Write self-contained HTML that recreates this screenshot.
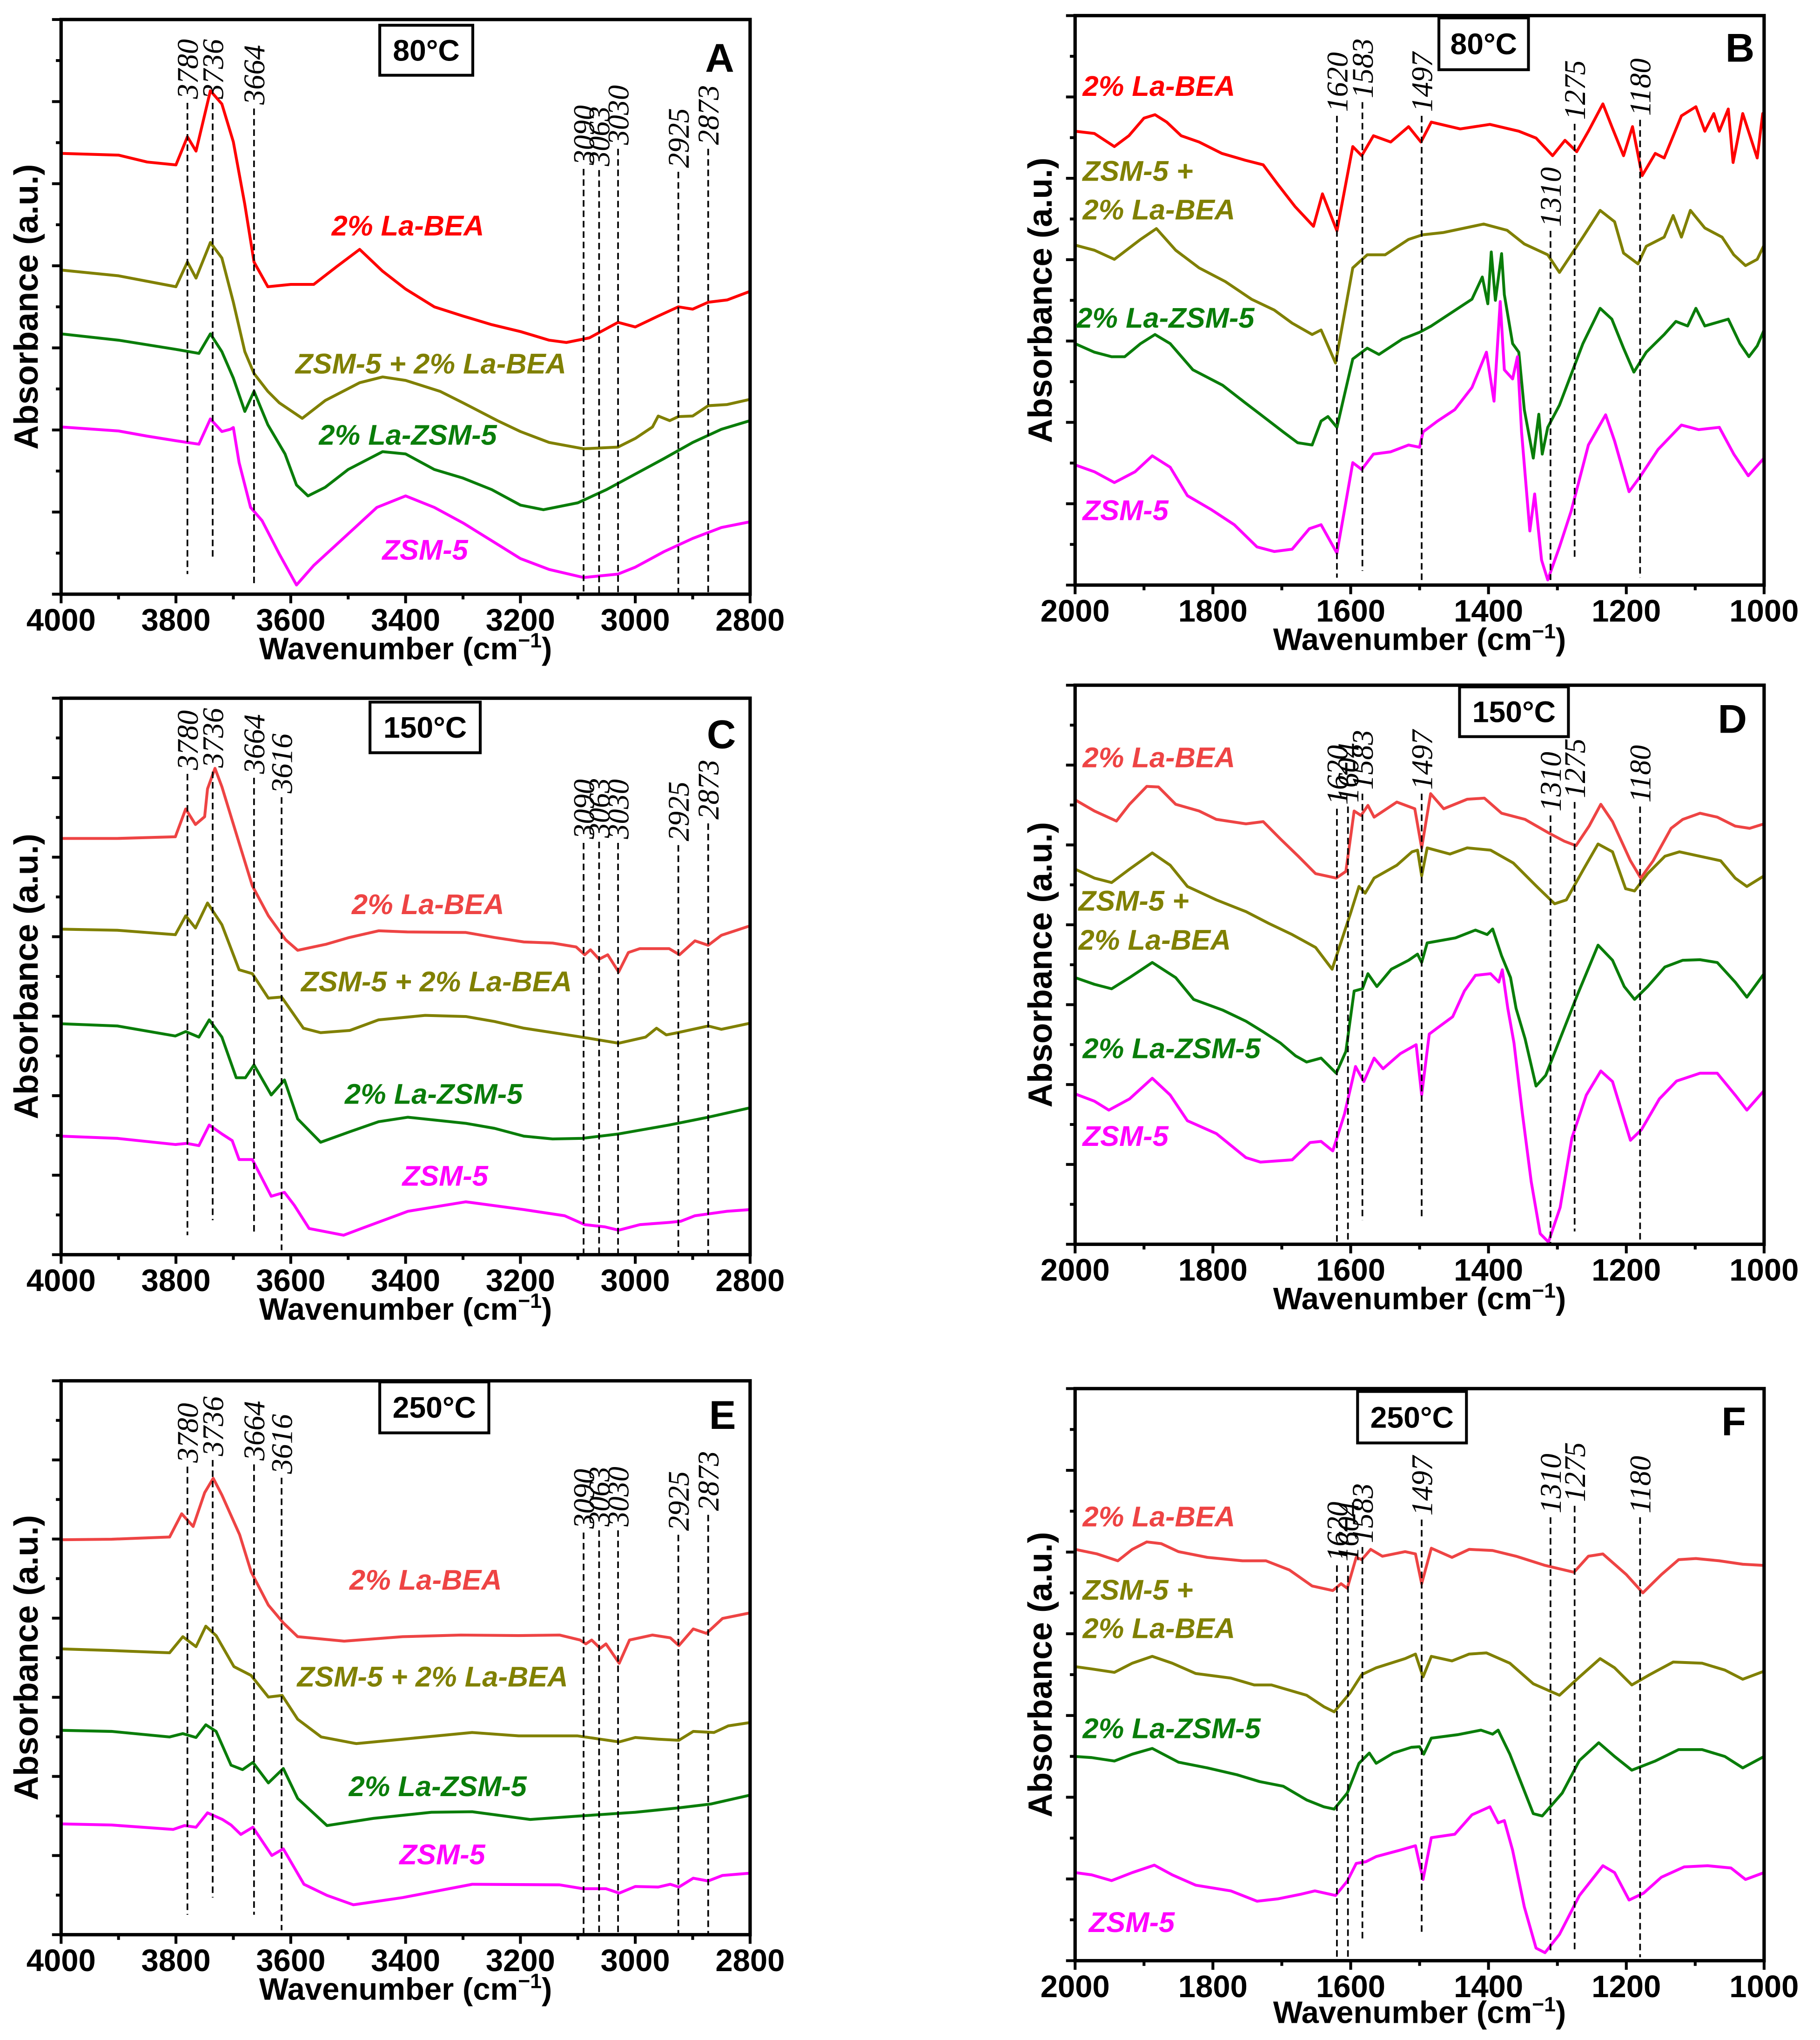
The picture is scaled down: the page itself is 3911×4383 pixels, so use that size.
<!DOCTYPE html>
<html>
<head>
<meta charset="utf-8">
<style>
html,body{margin:0;padding:0;background:#fff;}
svg{display:block;}
.tick{font-family:"Liberation Sans",Arial,sans-serif;font-weight:bold;font-size:24px;}
.atitle{font-family:"Liberation Sans",Arial,sans-serif;font-weight:bold;font-size:24px;}
.ytitle{font-family:"Liberation Sans",Arial,sans-serif;font-weight:bold;font-size:26px;}
.slab{font-family:"Liberation Sans",Arial,sans-serif;font-weight:bold;font-style:italic;font-size:22px;}
.plab{font-family:"Liberation Serif","Times New Roman",serif;font-style:italic;font-size:23px;}
.temp{font-family:"Liberation Sans",Arial,sans-serif;font-weight:bold;font-size:23px;}
.letter{font-family:"Liberation Sans",Arial,sans-serif;font-weight:bold;font-size:31px;}
</style>
</head>
<body>
<svg id="fig" xmlns="http://www.w3.org/2000/svg" width="3911" height="4383" viewBox="0 0 1400 1569" preserveAspectRatio="none"></svg>
<script>
// ===== Panel A (80°C, OH region) =====
const A_red_w=[4000,3900,3850,3800,3780,3765,3740,3720,3700,3680,3664,3640,3600,3560,3520,3480,3440,3400,3350,3300,3250,3200,3150,3120,3080,3030,3000,2960,2925,2900,2873,2840,2800];
const A_red_v=[76.7,76.4,75.2,74.7,79.6,77.1,87.6,85.3,78.7,67.8,57.8,53.5,53.9,53.9,57,60,56.2,53.1,50,48.4,46.9,45.7,44.2,43.8,44.6,47.3,46.5,48.4,50,49.6,50.8,51.2,52.7];
const A_olive_w=[4000,3900,3800,3780,3765,3740,3720,3700,3680,3664,3640,3620,3580,3540,3480,3440,3400,3340,3300,3240,3200,3150,3090,3030,3000,2970,2960,2940,2925,2900,2873,2840,2800];
const A_olive_v=[56.4,55.4,53.5,57.8,55,61.2,58.5,50.8,42.2,38.4,35.3,33.3,30.6,33.7,36.8,37.8,37.2,35.3,33.3,30.2,28.3,26.4,25.3,25.6,27.1,29.1,31,30.2,30.9,31,32.8,33,33.9];
const A_green_w=[4000,3900,3800,3760,3740,3720,3700,3680,3664,3640,3610,3590,3570,3540,3500,3440,3400,3350,3300,3250,3200,3160,3100,3050,3000,2950,2900,2850,2800];
const A_green_v=[45.3,44.2,42.6,41.9,45.3,42.2,37.6,31.8,35.3,29.5,24.4,19,17.1,18.6,21.7,24.8,24.4,21.7,20.2,18.2,15.5,14.7,15.9,18.2,20.9,23.6,26.4,28.7,30.2];
const A_mag_w=[4000,3900,3850,3800,3760,3740,3720,3705,3700,3690,3670,3650,3620,3590,3560,3500,3450,3400,3350,3300,3250,3200,3150,3090,3030,3000,2950,2900,2850,2800];
const A_mag_v=[29.1,28.4,27.5,26.7,26.1,30.5,28.3,28.7,29,22.9,15.1,12.8,7,1.6,5,10.5,15.1,17.1,15.1,12.4,9.3,6.2,4.3,2.9,3.5,4.7,7.4,9.7,11.6,12.6];
const A_peaks=[3780,3736,3664,3090,3063,3030,2925,2873];
const A_peakTop=[85.5,85.5,84.5,74,73.8,77.5,73.5,77.5];
const A_peakBot=[3.5,6.5,1.5,0,0,0,0,0];

// ===== Panel B (80°C, 2000-1000) =====
const B_red_w=[2000,1972,1943,1922,1900,1884,1867,1846,1820,1787,1753,1727,1706,1681,1654,1641,1620,1597,1584,1567,1542,1516,1498,1483,1441,1398,1356,1331,1307,1289,1272,1255,1234,1221,1204,1191,1177,1158,1145,1120,1099,1086,1073,1065,1052,1045,1031,1010,1002,1000];
const B_red_v=[79.7,79.3,77,78.9,82,82.6,81.3,78.9,77.8,75.8,74.6,73.8,70.4,66.5,63,68.7,62.2,77,75.4,78.9,77.8,80.5,77.8,81.3,80.1,80.9,79.7,78.5,75.4,78.1,76.1,79.7,84.5,80.5,75.4,80.5,71.9,75.8,75,82.4,84,79.7,82.8,79.7,83.6,74.2,82.8,75,82.8,79.7];
const B_olive_w=[2000,1972,1943,1905,1882,1854,1820,1782,1744,1711,1685,1656,1643,1622,1597,1576,1550,1516,1496,1466,1407,1373,1348,1314,1297,1280,1263,1238,1217,1204,1183,1171,1145,1132,1120,1107,1086,1061,1044,1027,1010,1000];
const B_olive_v=[59.7,58.8,57.2,60.7,62.6,58.8,55.7,53.3,50.2,48.3,46,44,44.8,39,55.7,58,58,60.7,61.5,61.9,63.4,62.3,59.9,58,54.9,58,61.1,65.8,63.8,58.3,56.4,59.5,61.1,64.9,61.1,65.8,62.7,61.1,58,56.1,57.2,59.7];
const B_green_w=[2000,1972,1947,1928,1905,1884,1862,1829,1786,1753,1727,1698,1677,1656,1643,1633,1620,1597,1576,1559,1525,1500,1483,1458,1424,1409,1401,1396,1390,1381,1377,1365,1356,1348,1335,1327,1322,1314,1297,1280,1263,1238,1221,1204,1189,1171,1145,1128,1111,1099,1086,1052,1035,1022,1010,1000];
const B_green_v=[42.4,40.9,40.1,40.1,42.4,44,42.4,37.8,35.1,32,29.6,26.9,25,24.6,28.8,29.6,27.7,39.7,41.6,40.5,43.2,44.4,45.5,47.5,50.2,54.1,49.4,58.5,50,58.2,51,42.4,40.9,30.8,22.3,30,23,27.7,31.6,37,42.4,48.6,46.7,41.6,37.4,40.9,44,46.3,45.5,48.6,45.5,46.7,42.4,40.1,42,44.8];
const B_mag_w=[2000,1972,1943,1913,1888,1862,1837,1803,1769,1736,1711,1685,1660,1643,1620,1597,1584,1567,1542,1516,1500,1495,1474,1449,1424,1403,1392,1383,1377,1365,1358,1352,1340,1333,1323,1314,1297,1280,1255,1230,1217,1196,1179,1154,1120,1095,1065,1044,1023,1000];
const B_mag_v=[21.1,19.9,18,19.9,22.7,20.7,15.7,13.3,10.6,6.7,5.9,6.3,9.9,10.6,5.6,21.5,20.3,23,23.4,24.6,24.2,26.9,28.8,30.8,34.7,40.9,32.3,49.8,37.8,36.2,40.1,26.9,9.5,16,4.4,0.9,6.7,13,24.6,29.9,25.3,16.4,19.2,23.8,28.1,27.3,27.7,23,19.2,22.3];
const B_peaks=[1620,1583,1497,1310,1275,1180];
const B_peakTop=[82.4,84.8,82.4,62.2,81,81.7];
const B_peakBot=[1.3,2.5,0.9,0.9,4.8,1.3];

// ===== Panel C (150°C, OH region) =====
const C_red_w=[4000,3902,3801,3783,3766,3750,3745,3732,3720,3690,3667,3639,3609,3588,3538,3498,3447,3397,3295,3245,3194,3144,3103,3088,3078,3063,3048,3029,3012,2992,2941,2923,2896,2873,2850,2800];
const C_red_v=[74.8,74.8,75.1,80.1,77.3,78.7,83.7,87.4,84.1,74,66.3,60.9,56.6,54.7,55.8,57,58.2,58,57.9,57,56.2,56,55.3,53.9,54.8,53.1,53.9,50.8,54.3,55,55,53.9,56.4,55.6,57.4,59.1];
const C_olive_w=[4000,3902,3801,3783,3766,3745,3720,3690,3667,3639,3616,3599,3578,3548,3497,3447,3366,3295,3245,3194,3093,3029,2982,2963,2946,2926,2873,2850,2800];
const C_olive_v=[58.5,58.3,57.5,60.9,58.7,63.2,59.3,51.2,50.5,46.1,46.3,43.8,40.7,39.9,40.3,42.2,43,42.8,41.9,40.7,39.1,38,39.1,40.7,39.5,39.9,41.1,40.5,41.6];
const C_green_w=[4000,3902,3801,3783,3760,3742,3720,3695,3679,3664,3634,3611,3588,3548,3497,3447,3396,3295,3245,3194,3144,3093,3029,2941,2873,2800];
const C_green_v=[41.5,41.1,39.3,40.1,39.1,42.2,39.1,31.8,31.8,34.1,28.7,31.4,24.4,20.2,22.1,23.9,24.7,23.6,22.7,21.3,20.8,20.9,21.7,23.3,24.7,26.4];
const C_mag_w=[4000,3902,3801,3781,3760,3742,3720,3702,3690,3667,3634,3611,3594,3568,3508,3477,3396,3295,3194,3123,3088,3053,3029,2992,2941,2921,2896,2840,2800];
const C_mag_v=[21.3,20.9,19.8,20,19.6,23.3,21.7,20.5,17.1,17.1,10.5,11.2,8.9,4.7,3.5,4.7,7.8,9.5,8.1,7,5.4,5,4.4,5.4,5.8,6,7,7.8,8.1];
const C_peaks=[3780,3736,3664,3616,3090,3063,3030,2925,2873];
const C_peakTop=[86.4,86.8,85.7,82.2,74,74.2,74,73.6,77.5];
const C_peakBot=[3.5,6.2,3.5,0.8,0,0,0,0,0];

// ===== Panel D (150°C, 2000-1000) =====
const D_red_w=[2000,1972,1940,1921,1896,1879,1854,1820,1795,1752,1727,1702,1676,1651,1621,1607,1595,1585,1575,1566,1533,1507,1497,1484,1465,1431,1406,1381,1347,1313,1290,1273,1254,1237,1220,1194,1179,1161,1135,1118,1093,1068,1042,1021,1000];
const D_red_v=[79.5,77.5,75.7,78.7,81.9,81.8,78.7,77.5,76,75.2,75.6,72.5,69.4,66.3,65.5,66.7,77.5,76.7,78.5,76.4,79.1,77.9,70.9,80.6,77.9,79.6,79.8,77.1,76,73.6,72.1,71.3,74.8,78.7,75.6,68.6,65.5,68.6,74.4,76,77.1,76.4,74.8,74.4,75.2];
const D_olive_w=[2000,1972,1947,1921,1888,1862,1837,1795,1752,1719,1685,1651,1627,1600,1588,1579,1566,1533,1511,1503,1497,1489,1456,1431,1397,1364,1330,1304,1287,1262,1241,1220,1201,1188,1169,1144,1123,1093,1063,1042,1025,1000];
const D_olive_v=[67.1,65.5,64.7,67.1,70,67.8,64,61.6,59.5,57.4,55.4,53.1,49.2,59.3,64,62.8,65.5,67.8,70.2,70.5,65.9,70.9,69.8,70.9,70.5,68.2,64,60.9,61.6,67.1,71.6,70.2,63.6,63.2,66.3,69.4,70.2,69.4,68.6,65.5,64,65.9];
const D_green_w=[2000,1972,1947,1921,1888,1854,1828,1786,1752,1727,1702,1680,1664,1643,1621,1607,1595,1583,1575,1562,1541,1516,1503,1497,1489,1448,1419,1402,1394,1381,1368,1360,1347,1331,1317,1296,1271,1241,1220,1203,1188,1169,1144,1118,1093,1068,1042,1025,1000];
const D_green_v=[47.7,46.5,45.7,47.7,50.4,47.7,43.8,41.9,39.9,38,36,33.7,32.6,33.3,30.6,34.5,45.3,45.7,48.4,46.1,49.2,50.8,51.9,50.4,53.9,54.8,56.2,55.4,56.4,51.6,47.7,42.2,36.8,28.3,30.2,36.8,44.6,53.5,50.8,46.1,43.8,46.1,49.6,50.8,50.9,50.4,46.9,44.2,48.4];
const D_mag_w=[2000,1972,1951,1921,1888,1862,1837,1795,1752,1731,1685,1659,1643,1626,1609,1593,1581,1566,1553,1528,1505,1497,1486,1473,1452,1435,1419,1397,1385,1380,1372,1363,1351,1338,1325,1313,1296,1279,1258,1237,1220,1194,1178,1152,1127,1093,1068,1042,1025,1000];
const D_mag_v=[26.9,25.6,24,26,29.7,26.7,22.1,19.8,15.5,14.7,15.1,18.2,18.4,16.7,23.3,31.8,29.1,33.3,31.4,34.1,35.7,26.7,37.6,38.8,40.7,45.3,48.1,48.4,46.9,49.1,42.2,36,23.6,11.2,1.9,0.4,6.6,19,26.7,31,29.1,18.6,20.5,26,29.2,30.6,30.6,26.7,24,27.5];
const D_peaks=[1620,1604,1583,1497,1310,1275,1180];
const D_peakTop=[77.9,78.3,80.6,80.6,76.7,79.1,78.3];
const D_peakBot=[0.4,0.8,4.3,5,0,2.3,0.8];

// ===== Panel E (250°C, OH region) =====
const E_red_w=[4000,3912,3811,3790,3770,3750,3735,3720,3689,3669,3639,3613,3588,3507,3405,3304,3203,3132,3096,3086,3076,3061,3051,3028,3010,2970,2939,2924,2899,2876,2848,2800];
const E_red_v=[71.3,71.4,71.8,76,73.7,79.8,82.4,79.4,72.2,65.5,59.5,56.3,53.8,53,53.8,54.1,54,54.1,53.2,52.5,53.2,51.7,52.5,49,53.2,54.1,53.6,52.2,55.2,54.4,57.1,58.1];
const E_olive_w=[4000,3912,3811,3788,3765,3748,3730,3699,3669,3639,3615,3588,3547,3486,3405,3284,3203,3101,3061,3028,3000,2960,2924,2899,2863,2838,2800];
const E_olive_v=[51.6,51.3,50.9,53.8,52,55.7,54,48.4,46.8,42.9,43.2,38.9,35.7,34.5,35.3,36.5,35.9,35.9,35.3,34.8,35.6,35.3,35.1,36.7,36.5,37.7,38.3];
const E_green_w=[4000,3912,3811,3788,3765,3748,3730,3704,3684,3666,3639,3613,3588,3537,3456,3355,3284,3183,3101,3000,2924,2868,2800];
const E_green_v=[36.9,36.7,35.7,36.3,35.6,37.9,36.7,30.6,29.8,31.1,27.4,30,24.6,19.7,21,22.1,22.2,20.8,21.4,22.1,22.9,23.6,25.2];
const E_mag_w=[4000,3912,3805,3785,3765,3745,3719,3704,3687,3666,3633,3613,3577,3537,3491,3405,3284,3132,3091,3051,3028,3000,2960,2939,2924,2899,2873,2848,2800];
const E_mag_v=[20,19.8,19,19.7,19.4,22,20.8,19.8,18.1,19.4,14.3,15.5,9.1,7.1,5.4,6.7,9.1,9,8.3,8.3,7.5,8.7,8.6,9.1,8.6,10.2,9.7,10.7,11.1];
const E_peaks=[3780,3736,3664,3616,3090,3063,3030,2925,2873];
const E_peakTop=[84.5,85.7,84.9,82.5,72.6,73,73,72.2,75.8];
const E_peakBot=[3.6,6.7,3.6,0.8,0,0,0,0,0];

// ===== Panel F (250°C, 2000-1000) =====
const F_red_w=[2000,1968,1938,1917,1896,1875,1850,1808,1757,1723,1689,1656,1626,1614,1605,1592,1584,1571,1554,1521,1506,1497,1483,1453,1428,1394,1360,1318,1276,1255,1234,1200,1176,1149,1124,1099,1065,1031,1000];
const F_red_v=[71.9,71.1,69.9,71.9,73.2,72.9,71.5,70.5,69.9,69.9,68.3,65.5,64.7,65.9,65.1,70.5,70.1,71.9,70.7,71.5,71.1,65.9,72.1,70.5,71.9,71.7,70.7,69.1,67.9,70.7,71.1,67.5,64.3,67.5,70.1,70.3,69.9,69.3,69.1];
const F_olive_w=[2000,1976,1943,1917,1888,1859,1825,1774,1740,1715,1664,1639,1624,1601,1584,1563,1521,1506,1495,1483,1453,1428,1403,1369,1335,1297,1268,1238,1217,1192,1166,1132,1090,1057,1031,1000];
const F_olive_v=[51.4,51,50.4,52,53.2,52,50.2,49.4,48.2,48.2,46.4,44.4,43.5,46.8,50,51.2,52.8,53.6,49.6,53.2,52.4,53.6,53.8,52,48.4,46.4,49.6,52.8,51.2,48.2,50,52.2,52,50.8,49.2,50.6];
const F_green_w=[2000,1976,1943,1917,1888,1850,1808,1765,1732,1698,1664,1639,1624,1605,1588,1573,1563,1538,1512,1500,1494,1483,1445,1411,1394,1386,1369,1352,1335,1322,1293,1268,1240,1217,1192,1158,1124,1090,1057,1031,1000];
const F_green_v=[35.7,35.5,34.9,36.1,37.1,34.7,33.7,32.5,31.3,30.5,28.1,26.9,26.5,29.3,34.5,36.3,34.5,36.3,37.3,37.4,36.1,38.9,39.5,40.3,39.6,40.3,36.1,30.9,25.7,25.3,29.3,35,38.1,35.7,33.3,34.9,36.9,36.9,35.7,33.7,35.7];
const F_mag_w=[2000,1976,1947,1917,1885,1859,1825,1774,1736,1706,1673,1652,1622,1605,1592,1578,1563,1529,1506,1495,1483,1449,1424,1398,1386,1377,1365,1348,1331,1318,1297,1268,1234,1217,1196,1175,1149,1116,1082,1048,1027,1000];
const F_mag_v=[15.4,15,14,15.4,16.7,15,13.2,12.2,10.4,10.8,11.6,12.2,11.4,13.9,17,17.3,18.2,19.3,20.1,14.2,21.5,22.1,25.5,26.9,24.1,24.5,19.3,9.4,2.2,1.4,4.6,11.4,16.6,15.4,10.6,11.8,14.6,16.4,16.6,16.2,14.2,15.4];
const F_peaks=[1620,1604,1583,1497,1310,1275,1180];
const F_peakTop=[69.1,69.1,72.3,77.1,77.5,79.5,77.5];
const F_peakBot=[0,0.2,3.8,4.5,1.4,1.8,0.6];

const NS='http://www.w3.org/2000/svg';
const svg=document.getElementById('fig');
const COL={red:'#ff0000',red2:'#ee4444',olive:'#808000',green:'#0a7d0a',mag:'#ff00ff'};

function mk(tag,attrs,parent){const e=document.createElementNS(NS,tag);for(const k in attrs)e.setAttribute(k,attrs[k]);(parent||svg).appendChild(e);return e;}

function drawPanel(P){
  const g=mk('g',{});
  
  
  const xs=w=>P.x0+(P.wmax-w)/(P.wmax-P.wmin)*(P.x1-P.x0);
  const ys=v=>P.y1-v/100*(P.y1-P.y0);
  P.series.forEach(s=>{
    let d='';
    s.w.forEach((w,i)=>{d+=(i?'L':'M')+xs(w).toFixed(2)+','+ys(s.v[i]).toFixed(2);});
    const p=mk('path',{d:d,fill:'none',stroke:s.c,'stroke-width':2.2,'stroke-linejoin':'round'},g);
    
    
  });
  P.peaks.forEach((pk,i)=>{
    const x=xs(pk);
    const l=mk('line',{x1:x,x2:x,y1:ys(P.top[i]),y2:ys(P.bot[i]),stroke:'#000','stroke-width':1.3,'stroke-dasharray':'5,3'},g);
    
    
    const t=mk('text',{class:'plab',x:0,y:0,transform:'translate('+(x+8)+','+(ys(P.top[i])-3)+') rotate(-90)'},g);
    t.textContent=String(pk);
    
    
  });
  const fr=mk('rect',{x:P.x0,y:P.y0,width:P.x1-P.x0,height:P.y1-P.y0,fill:'none',stroke:'#000','stroke-width':2.6},g);
  
  
  for(let k=0;k<=14;k++){
    const y=P.y1-k*(P.y1-P.y0)/14;
    const len=(k%2===0)?7:4;
    const t=mk('line',{x1:P.x0-len,x2:P.x0,y1:y,y2:y,stroke:'#000','stroke-width':2.2},g);
    
    
  }
  for(let w=P.wmin;w<=P.wmax;w+=100){
    const x=xs(w);const major=((w-P.wmin)%200===0);
    const t=mk('line',{x1:x,x2:x,y1:P.y1,y2:P.y1+(major?7:4),stroke:'#000','stroke-width':2.2},g);
    
    
    if(major){
      const lb=mk('text',{class:'tick',x:x,y:P.y1+28,'text-anchor':'middle'},g);
      lb.textContent=String(w);
      
      
    }
  }
  const xt=mk('text',{class:'atitle',x:(P.x0+P.x1)/2,y:P.y1+P.tdy,'text-anchor':'middle'},g);
  
  
  xt.appendChild(document.createTextNode('Wavenumber (cm'));
  const sup=mk('tspan',{dy:-9,'font-size':'16px'},xt);sup.textContent='−1';
  const cl=mk('tspan',{dy:9},xt);cl.textContent=')';
  const yc=(P.y0+P.y1)/2;
  const yt=mk('text',{class:'ytitle',x:0,y:0,'text-anchor':'middle',transform:'translate('+(P.x0-18)+','+yc+') rotate(-90)'},g);
  yt.textContent='Absorbance (a.u.)';
  
  
  const bx=xs(P.tbox[0]),bx2=xs(P.tbox[1]),by=ys(P.tbox[2]),by2=ys(P.tbox[3]);
  const rb=mk('rect',{x:bx,y:by,width:bx2-bx,height:by2-by,fill:'#fff',stroke:'#000','stroke-width':2.2},g);
  
  
  const tt=mk('text',{class:'temp',x:(bx+bx2)/2,y:(by+by2)/2+8,'text-anchor':'middle'},g);
  tt.textContent=P.temp;
  
  
  const lt=mk('text',{class:'letter',x:xs(P.letter[0]),y:ys(P.letter[1]),'text-anchor':'middle'},g);
  lt.textContent=P.id;
  
  
  P.labels.forEach(L=>{
    const t=mk('text',{class:'slab',x:xs(L[1]),y:ys(L[2]),fill:L[3],'text-anchor':L[4]},g);
    t.textContent=L[0];
    
    
  });
}

const LEFT={wmin:2800,wmax:4000,x0:47,x1:577,tdy:50};
const RIGHT={wmin:1000,wmax:2000,x0:827,x1:1357,tdy:50};

drawPanel(Object.assign({},LEFT,{id:'A',y0:15,y1:457,temp:'80°C',tbox:[3445,3283,99,90.3],letter:[2853,90.9],
  series:[{n:'la-bea',c:COL.red,w:A_red_w,v:A_red_v},{n:'zsm5-la-bea',c:COL.olive,w:A_olive_w,v:A_olive_v},{n:'la-zsm5',c:COL.green,w:A_green_w,v:A_green_v},{n:'zsm5',c:COL.mag,w:A_mag_w,v:A_mag_v}],
  peaks:A_peaks,top:A_peakTop,bot:A_peakBot,
  labels:[['2% La-BEA',3396,62.4,COL.red,'middle'],['ZSM-5 + 2% La-BEA',3356,38.4,COL.olive,'middle'],['2% La-ZSM-5',3396,26,COL.green,'middle'],['ZSM-5',3366,6,COL.mag,'middle']]}));

drawPanel(Object.assign({},RIGHT,{id:'B',y0:12,y1:450,temp:'80°C',tbox:[1472,1342,99.6,90.5],letter:[1035,91.9],
  series:[{n:'la-bea',c:COL.red,w:B_red_w,v:B_red_v},{n:'zsm5-la-bea',c:COL.olive,w:B_olive_w,v:B_olive_v},{n:'la-zsm5',c:COL.green,w:B_green_w,v:B_green_v},{n:'zsm5',c:COL.mag,w:B_mag_w,v:B_mag_v}],
  peaks:B_peaks,top:B_peakTop,bot:B_peakBot,
  labels:[['2% La-BEA',1989,85.9,COL.red,'start'],['ZSM-5 +',1989,71,COL.olive,'start'],['2% La-BEA',1989,64.2,COL.olive,'start'],['2% La-ZSM-5',1998,45.2,COL.green,'start'],['ZSM-5',1989,11.4,COL.mag,'start']]}));

drawPanel(Object.assign({},LEFT,{id:'C',y0:537,y1:965,temp:'150°C',tbox:[3462,3270,99.3,90.2],letter:[2850,91],
  series:[{n:'la-bea',c:COL.red2,w:C_red_w,v:C_red_v},{n:'zsm5-la-bea',c:COL.olive,w:C_olive_w,v:C_olive_v},{n:'la-zsm5',c:COL.green,w:C_green_w,v:C_green_v},{n:'zsm5',c:COL.mag,w:C_mag_w,v:C_mag_v}],
  peaks:C_peaks,top:C_peakTop,bot:C_peakBot,
  labels:[['2% La-BEA',3361,61.2,COL.red2,'middle'],['ZSM-5 + 2% La-BEA',3346,47.3,COL.olive,'middle'],['2% La-ZSM-5',3351,27.1,COL.green,'middle'],['ZSM-5',3331,12.4,COL.mag,'middle']]}));

drawPanel(Object.assign({},RIGHT,{id:'D',y0:527,y1:957,temp:'150°C',tbox:[1442,1284,99.7,90.8],letter:[1046,91.5],
  series:[{n:'la-bea',c:COL.red2,w:D_red_w,v:D_red_v},{n:'zsm5-la-bea',c:COL.olive,w:D_olive_w,v:D_olive_v},{n:'la-zsm5',c:COL.green,w:D_green_w,v:D_green_v},{n:'zsm5',c:COL.mag,w:D_mag_w,v:D_mag_v}],
  peaks:D_peaks,top:D_peakTop,bot:D_peakBot,
  labels:[['2% La-BEA',1989,85.3,COL.red2,'start'],['ZSM-5 +',1995,59.7,COL.olive,'start'],['2% La-BEA',1995,52.7,COL.olive,'start'],['2% La-ZSM-5',1989,33.3,COL.green,'start'],['ZSM-5',1989,17.6,COL.mag,'start']]}));

drawPanel(Object.assign({},LEFT,{id:'E',y0:1062,y1:1488,temp:'250°C',tbox:[3445,3255,99.8,90.6],letter:[2848,91.3],
  series:[{n:'la-bea',c:COL.red2,w:E_red_w,v:E_red_v},{n:'zsm5-la-bea',c:COL.olive,w:E_olive_w,v:E_olive_v},{n:'la-zsm5',c:COL.green,w:E_green_w,v:E_green_v},{n:'zsm5',c:COL.mag,w:E_mag_w,v:E_mag_v}],
  peaks:E_peaks,top:E_peakTop,bot:E_peakBot,
  labels:[['2% La-BEA',3365,62.3,COL.red2,'middle'],['ZSM-5 + 2% La-BEA',3353,44.8,COL.olive,'middle'],['2% La-ZSM-5',3344,25,COL.green,'middle'],['ZSM-5',3336,12.7,COL.mag,'middle']]}));

drawPanel(Object.assign({},RIGHT,{id:'F',y0:1068,y1:1508,tdy:48,temp:'250°C',tbox:[1590,1432,99.5,90.5],letter:[1044,91.8],
  series:[{n:'la-bea',c:COL.red2,w:F_red_w,v:F_red_v},{n:'zsm5-la-bea',c:COL.olive,w:F_olive_w,v:F_olive_v},{n:'la-zsm5',c:COL.green,w:F_green_w,v:F_green_v},{n:'zsm5',c:COL.mag,w:F_mag_w,v:F_mag_v}],
  peaks:F_peaks,top:F_peakTop,bot:F_peakBot,
  labels:[['2% La-BEA',1989,75.9,COL.red2,'start'],['ZSM-5 +',1989,63.1,COL.olive,'start'],['2% La-BEA',1989,56.4,COL.olive,'start'],['2% La-ZSM-5',1989,38.9,COL.green,'start'],['ZSM-5',1980,5,COL.mag,'start']]}));
</script>
</body>
</html>
